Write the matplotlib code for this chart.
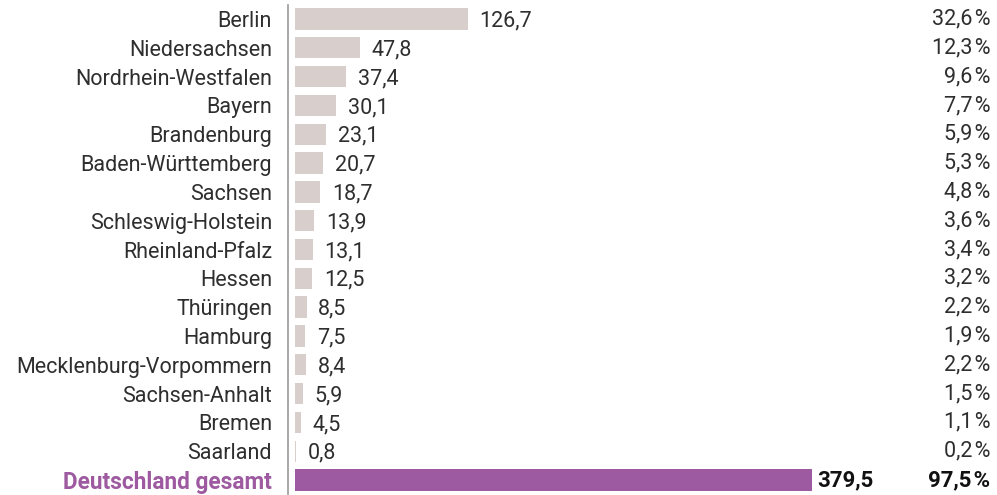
import matplotlib.pyplot as plt

plt.rcParams['font.family'] = ['Roboto', 'DejaVu Sans']

laender = ['Berlin', 'Niedersachsen', 'Nordrhein-Westfalen', 'Bayern', 'Brandenburg',
           'Baden-Württemberg', 'Sachsen', 'Schleswig-Holstein', 'Rheinland-Pfalz',
           'Hessen', 'Thüringen', 'Hamburg', 'Mecklenburg-Vorpommern', 'Sachsen-Anhalt',
           'Bremen', 'Saarland', 'Deutschland gesamt']
werte = [126.7, 47.8, 37.4, 30.1, 23.1, 20.7, 18.7, 13.9, 13.1, 12.5, 8.5, 7.5, 8.4,
         5.9, 4.5, 0.8, 379.5]
anteile = [32.6, 12.3, 9.6, 7.7, 5.9, 5.3, 4.8, 3.6, 3.4, 3.2, 2.2, 1.9, 2.2, 1.5,
           1.1, 0.2, 97.5]

grau = '#d8cfcd'
lila = '#9e5aa0'
text_col = '#2e2e2e'

fig = plt.figure(figsize=(9.97, 4.95), dpi=100)
ax = fig.add_axes([288/997, 0.0012, 709/997, 0.9895])

pos = list(range(len(laender)))
farben = [grau]*(len(laender)-1) + [lila]
ax.barh(pos, werte, height=0.74, color=farben, left=0)

ax.set_ylim(len(laender)-0.5, -0.5)
ax.set_xlim(-5.1, 515)

def fmt(v):
    return f'{v:.1f}'.replace('.', ',')

for i, (v, a) in enumerate(zip(werte, anteile)):
    if i < len(laender)-1:
        ax.annotate(fmt(v), (v, i), xytext=(8.5, -1.5), textcoords='offset points',
                    ha='left', va='center', fontsize=15.5, color=text_col)
        ax.text(0.9905, i, fmt(a) + '\u200a%', transform=ax.get_yaxis_transform(),
                ha='right', va='center', fontsize=15.5, color=text_col)
    else:
        ax.text(0.8265, i, fmt(v), transform=ax.get_yaxis_transform(),
                ha='right', va='center', fontsize=16, color='#111111', fontweight='bold')
        ax.text(0.9905, i, fmt(a) + '\u200a%', transform=ax.get_yaxis_transform(),
                ha='right', va='center', fontsize=16, color='#111111', fontweight='bold')

ax.set_yticks(pos)
ax.set_yticklabels(laender, fontsize=15.5, color=text_col)
ax.tick_params(axis='y', length=0, pad=11.5)
lbl = ax.get_yticklabels()[-1]
lbl.set_color(lila)
lbl.set_fontweight('bold')
lbl.set_fontsize(16.3)
ax.set_xticks([])

for s in ['top', 'right', 'bottom']:
    ax.spines[s].set_visible(False)
ax.spines['left'].set_color('#999999')
ax.spines['left'].set_linewidth(1.2)

fig.savefig('out.png', dpi=100)
